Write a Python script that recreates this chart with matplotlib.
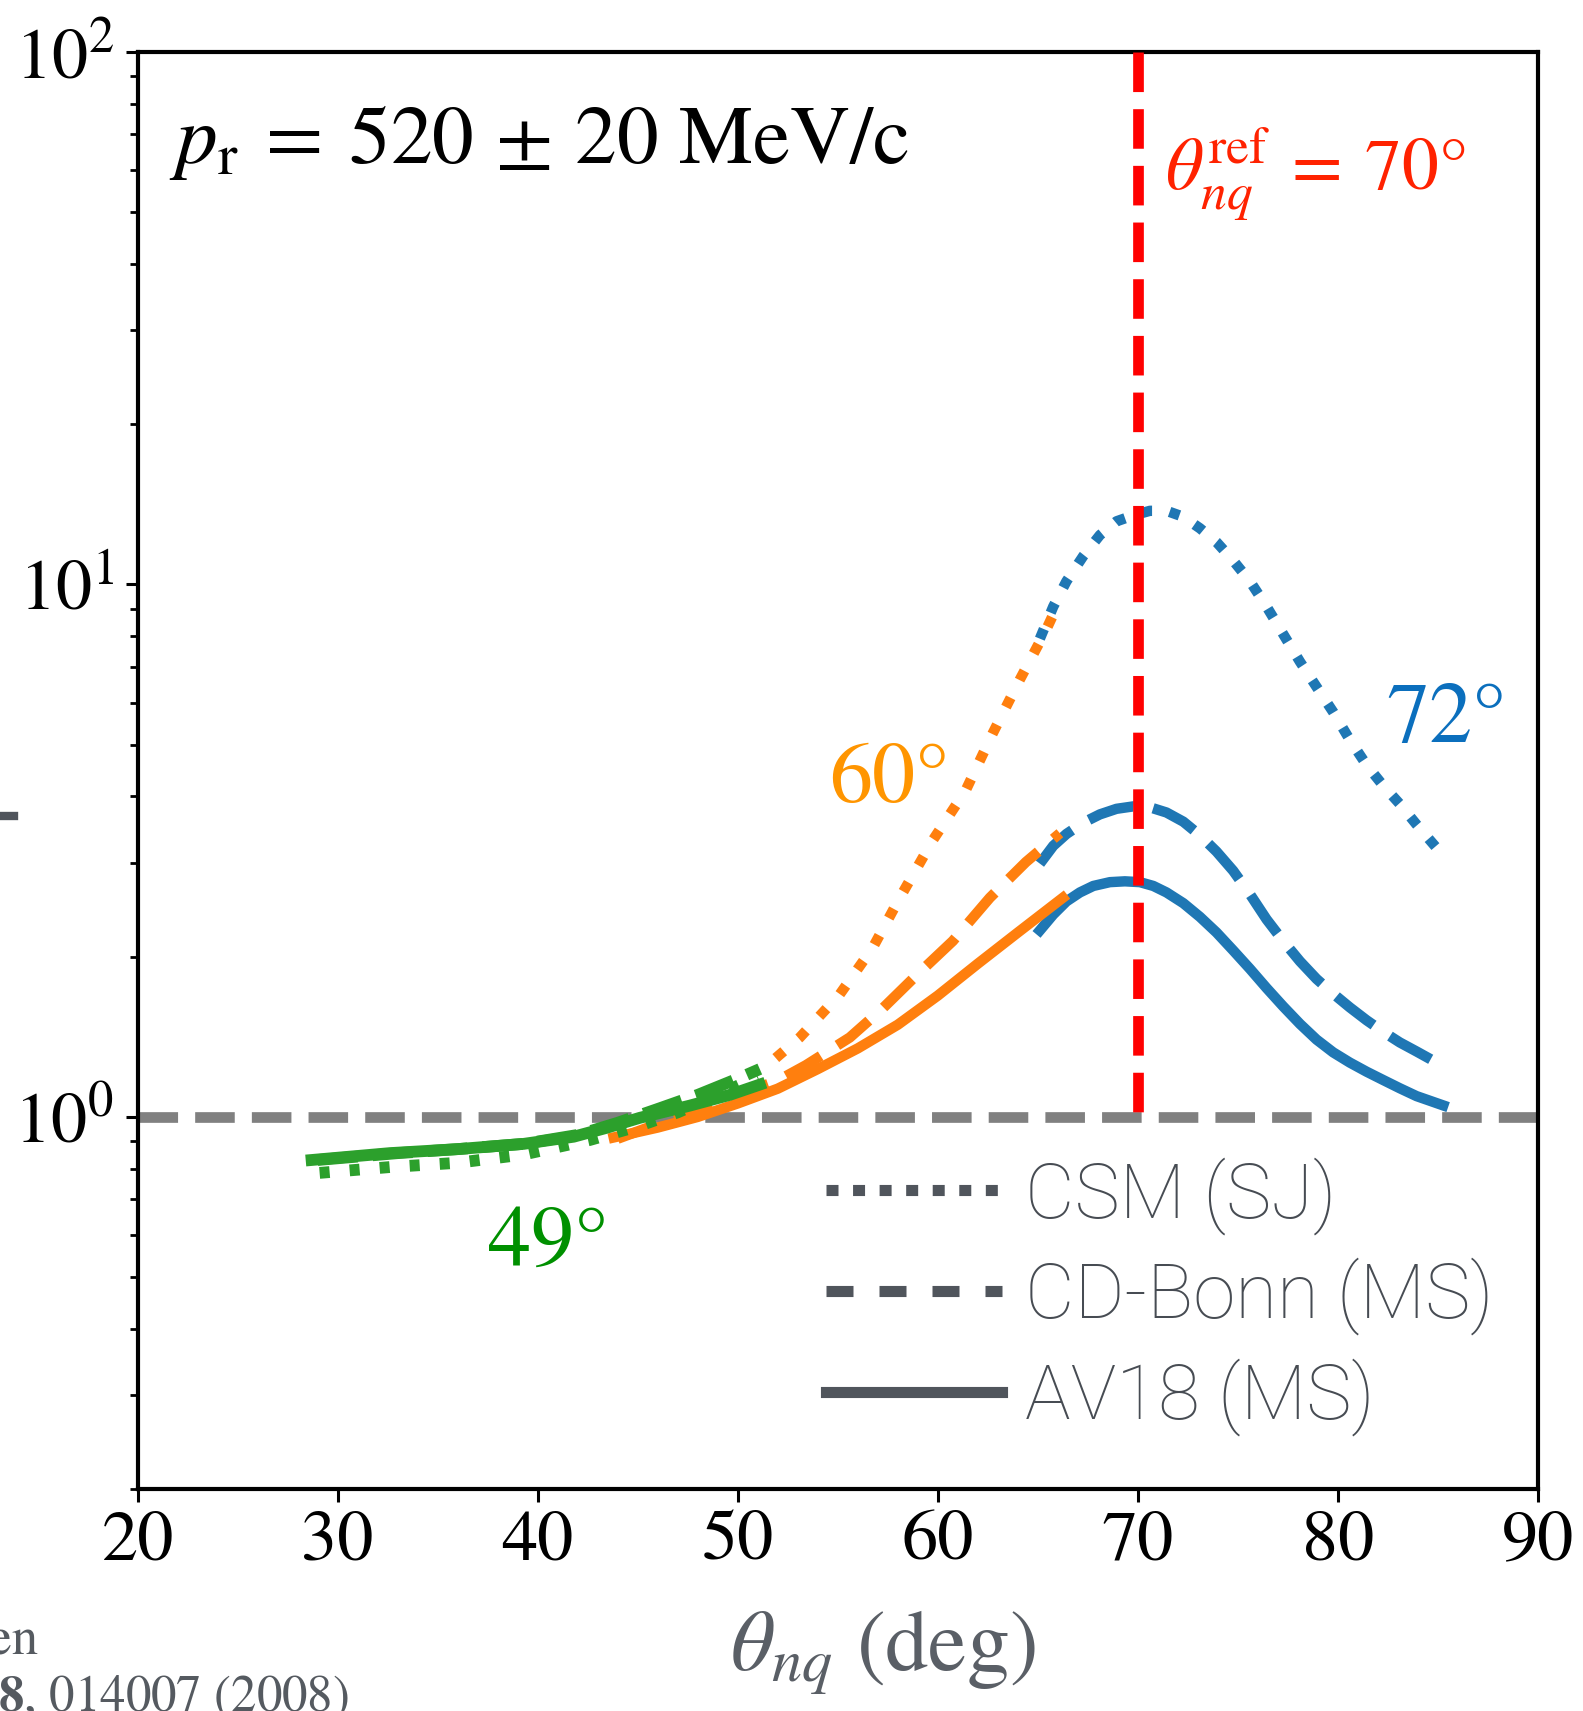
import matplotlib
matplotlib.use('Agg')
import matplotlib.pyplot as plt
from matplotlib.lines import Line2D

plt.rcParams['font.family'] = 'STIXGeneral'
plt.rcParams['mathtext.fontset'] = 'stix'

# ---- data (theta_nq in deg, ratio) ----
# 49 deg kinematics (green)
g_sol_x = [28.7, 32.6, 36.0, 39.3, 41.8, 43.4, 45.1, 47.6, 49.6, 51.1]
g_sol_y = [0.83, 0.855, 0.87, 0.89, 0.918, 0.953, 0.996, 1.05, 1.10, 1.15]
g_dash_x = [29.0, 33.0, 36.0, 39.3, 42.0, 44.0, 46.0, 48.0, 50.0, 51.1]
g_dash_y = [0.83, 0.855, 0.87, 0.89, 0.925, 0.975, 1.035, 1.10, 1.18, 1.23]
g_dot_x = [29.1, 32.6, 36.0, 39.3, 42.6, 45.0, 47.0, 49.0, 51.0]
g_dot_y = [0.785, 0.805, 0.82, 0.85, 0.905, 0.96, 1.02, 1.10, 1.19]

# 60 deg kinematics (orange)
o_sol_x = [43.8, 46.0, 48.0, 50.0, 52.0, 54.0, 56.0, 58.0, 60.0, 62.0, 64.0, 66.25]
o_sol_y = [0.915, 0.955, 1.0, 1.06, 1.13, 1.23, 1.345, 1.49, 1.69, 1.94, 2.22, 2.58]
o_dash_x = [44.0, 46.0, 48.0, 50.0, 52.0, 53.4, 55.6, 57.25, 58.9, 60.75, 62.6, 64.4, 66.1]
o_dash_y = [0.91, 0.97, 1.03, 1.10, 1.17, 1.25, 1.41, 1.60, 1.84, 2.14, 2.58, 3.01, 3.41]
o_dot_x = [51.9, 53.1, 55.1, 56.75, 58.1, 59.75, 61.4, 62.75, 64.1, 65.4, 65.9]
o_dot_y = [1.29, 1.41, 1.70, 2.08, 2.58, 3.31, 4.11, 5.26, 6.63, 8.2, 9.0]

# 72 deg kinematics (blue)
b_sol_x = [65.10, 65.77, 66.43, 67.10, 67.77, 68.60, 69.35, 70.10, 70.77, 71.43, 72.27,
           73.10, 73.93, 74.76, 75.60, 76.43, 77.26, 78.10, 78.93, 79.76, 80.59, 81.43,
           82.26, 83.09, 83.93, 85.26]
b_sol_y = [2.24, 2.40, 2.54, 2.64, 2.715, 2.76, 2.77, 2.76, 2.715, 2.64, 2.52,
           2.375, 2.22, 2.055, 1.897, 1.746, 1.613, 1.495, 1.397, 1.322, 1.265, 1.216,
           1.173, 1.132, 1.094, 1.051]
b_dash_x = [65.10, 65.77, 66.43, 67.27, 68.10, 68.93, 69.77, 70.60, 71.43, 72.27, 73.10,
            73.93, 74.76, 75.60, 76.43, 77.26, 78.10, 78.93, 79.76, 80.59, 81.43, 82.26,
            83.09, 83.93, 84.93]
b_dash_y = [2.99, 3.23, 3.40, 3.57, 3.70, 3.79, 3.83, 3.815, 3.73, 3.585, 3.38,
            3.15, 2.90, 2.62, 2.35, 2.14, 1.96, 1.816, 1.704, 1.606, 1.519, 1.445,
            1.380, 1.327, 1.265]
b_dot_x = [65.10, 65.77, 66.43, 67.27, 68.10, 68.93, 69.77, 70.60, 71.43, 72.27, 73.10,
           73.93, 74.76, 75.60, 76.43, 77.26, 78.10, 78.93, 79.76, 80.59, 81.43, 82.26,
           83.09, 83.93, 84.93]
b_dot_y = [7.91, 9.09, 10.14, 11.31, 12.38, 13.14, 13.48, 13.75, 13.75, 13.40, 12.75,
           12.01, 11.09, 10.14, 9.09, 8.07, 7.16, 6.42, 5.76, 5.11, 4.58, 4.19,
           3.87, 3.54, 3.20]

theta_ref = 70
x_ticks = [20, 30, 40, 50, 60, 70, 80, 90]
legend_labels = ['CSM (SJ)', 'CD-Bonn (MS)', 'AV18 (MS)']

blue, orange, green = '#1f77b4', '#ff7f0e', '#2ca02c'

fig = plt.figure(figsize=(15.83, 17.11), dpi=100)
ax = fig.add_axes([0.0869, 0.1297, 0.8847, 0.8399])

ax.axhline(1.0, color='gray', ls='--', lw=7.7, zorder=1)

ax.plot(b_dot_x, b_dot_y, color=blue, lw=7.5, dashes=(1.0, 1.7), zorder=2)
ax.plot(b_dash_x, b_dash_y, color=blue, lw=7.5, dashes=(4.5, 1.9), zorder=2)
ax.plot(b_sol_x, b_sol_y, color=blue, lw=7.5, zorder=2)

ax.plot(o_dot_x, o_dot_y, color=orange, lw=7.5, dashes=(1.0, 1.9), zorder=3)
ax.plot(o_dash_x, o_dash_y, color=orange, lw=7.5, dashes=(3.85, 1.9), zorder=3)
ax.plot(o_sol_x, o_sol_y, color=orange, lw=7.5, zorder=3)

ax.plot(g_dot_x, g_dot_y, color=green, lw=8.5, dashes=(0.85, 1.7), zorder=4)
ax.plot(g_dash_x, g_dash_y, color=green, lw=8.5, dashes=(3.4, 1.27), zorder=4)
ax.plot(g_sol_x, g_sol_y, color=green, lw=8.5, zorder=4)

ax.plot([theta_ref, theta_ref], [100, 1], color='#ff0000', ls='--', lw=7.7, zorder=5)

ax.set_yscale('log')
ax.set_xlim(20, 90)
ax.set_ylim(0.2, 100)
ax.set_xticks(x_ticks)
ax.set_xticklabels([str(t) for t in x_ticks])
ax.minorticks_on()
ax.xaxis.set_minor_locator(matplotlib.ticker.NullLocator())
ax.tick_params(axis='both', which='major', direction='out', length=9, width=2.2,
               labelsize=52, colors='black')
ax.tick_params(axis='y', which='minor', direction='out', length=6, width=2)
ax.tick_params(axis='x', pad=6)
ax.tick_params(axis='y', pad=8)
for s in ax.spines.values():
    s.set_linewidth(3)
    s.set_color('black')

ax.set_xlabel(r'$\theta_{nq}\ $(deg)', fontsize=62, color='#5a5f66')
ax.xaxis.set_label_coords(0.532, -0.083)

ax.text(0.0225, 0.9227, r'$p_{\rm r}\:=\:520\,\pm\,20\ {\rm MeV/c}$', transform=ax.transAxes,
        fontsize=60, va='baseline', ha='left')
ax.text(0.7337, 0.904, r'$\theta^{\rm ref}_{nq}\:=\:70°$', transform=ax.transAxes,
        fontsize=53, va='baseline', ha='left', color='#ff2200')
ax.text(82.4, 5.07, '72°', fontsize=62, color='#0b6fbd', va='baseline', ha='left')
ax.text(54.55, 3.91, '60°', fontsize=62, color='#ff9500', va='baseline', ha='left')
ax.text(37.5, 0.525, '49°', fontsize=62, color='#009000', va='baseline', ha='left')

lg_col = '#50555c'
handles = [Line2D([], [], color=lg_col, lw=8, dashes=(1.08, 1.31)),
           Line2D([], [], color=lg_col, lw=8, dashes=(2.43, 2.34)),
           Line2D([], [], color=lg_col, lw=8)]
leg = ax.legend(handles, legend_labels, loc='upper left', bbox_to_anchor=(0.4915, 0.2313),
                frameon=False, borderpad=0, borderaxespad=0, handlelength=2.3,
                handletextpad=0.3, labelspacing=0.3,
                prop={'family': 'Roboto', 'weight': 'light', 'size': 55})
for t in leg.get_texts():
    t.set_color('#474c53')

# clipped fragments from the neighbouring panel / caption
fig.add_artist(Line2D([0, 14 / 1583], [1 - 816 / 1711] * 2, color=lg_col, lw=6))
fig.text(38 / 1583, 1 - 1653 / 1711, 'Van Orden', fontsize=38, color='#555a60',
         ha='right', va='baseline')
fig.text(349 / 1583, 0.0, r'Phys. Rev. C $\mathbf{78}$, 014007 (2008)',
         fontsize=36.5, color='#555a60', ha='right', va='baseline')

fig.savefig('out.png', dpi=100)
